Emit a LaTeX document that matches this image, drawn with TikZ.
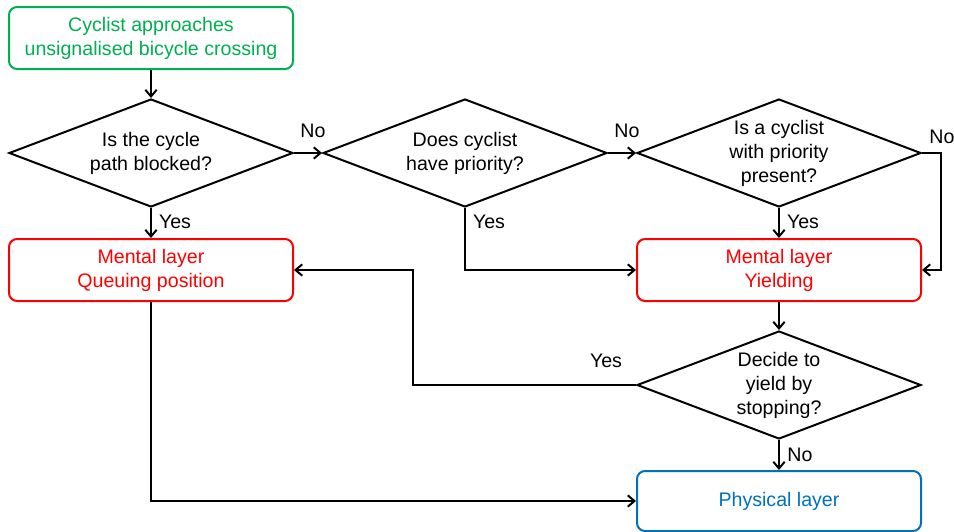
\documentclass[tikz,border=0pt]{standalone}
\usepackage{fontspec}
\setmainfont{Liberation Sans}
\usetikzlibrary{shapes.geometric,arrows.meta}
\definecolor{startgreen}{RGB}{0,176,80}
\definecolor{mentalred}{RGB}{255,0,0}
\definecolor{physblue}{RGB}{0,112,192}
\begin{document}
\begin{tikzpicture}[x=0.75pt,y=-0.75pt,
  font=\fontsize{14.7}{18}\selectfont,
  line width=1.5pt,
  arr/.style={-{Straight Barb[length=5pt,width=8.5pt]}, line width=1.5pt},
  stepbox/.style={draw, rounded corners=6pt, minimum width=213pt,
    minimum height=46.5pt, align=center, inner sep=0pt},
  decision/.style={draw, diamond, minimum width=213pt, minimum height=81pt,
    inner sep=0pt},
  qtext/.style={align=center, inner sep=0pt},
  lbl/.style={inner sep=0pt}]
\useasboundingbox (0,0) rectangle (954,532);

% process boxes
\node[stepbox, draw=startgreen, text=startgreen] (start) at (151,38)
  {Cyclist approaches\\unsignalised bicycle crossing};
\node[stepbox, draw=mentalred, text=mentalred] (queue) at (151,270)
  {Mental layer\\Queuing position};
\node[stepbox, draw=mentalred, text=mentalred] (yield) at (779,270)
  {Mental layer\\Yielding};
\node[stepbox, draw=physblue, text=physblue, minimum height=45pt] (phys) at (779,501)
  {Physical layer};

% decisions
\node[decision] (d1) at (151,153) {};
\node[qtext] (d1t) at (d1) {Is the cycle\\path blocked?};
\node[decision] (d2) at (465,153) {};
\node[qtext] (d2t) at (d2) {Does cyclist\\have priority?};
\node[decision] (d3) at (779,153) {};
\node[qtext] (d3t) at (d3) {Is a cyclist\\with priority\\present?};
\node[decision] (d4) at (779,385) {};
\node[qtext] (d4t) at (d4) {Decide to\\yield by\\stopping?};

% bend points
\coordinate (c3) at (941,153);
\coordinate (c4) at (413,385);

% connectors
\draw[arr] (start.south) -- (d1.north);
\draw[arr] (d1.east) -- (d2.west);
\draw[arr] (d2.east) -- (d3.west);
\draw[arr] (d3.east) -- (c3) |- (yield.east);
\draw[arr] (d1.south) -- (queue.north);
\draw[arr] (d2.south) |- (yield.west);
\draw[arr] (d3.south) -- (yield.north);
\draw[arr] (yield.south) -- (d4.north);
\draw[arr] (d4.west) -- (c4) |- (queue.east);
\draw[arr] (d4.south) -- (phys.north);
\draw[arr] (queue.south) |- (phys.west);

% branch labels
\node[lbl] (l1) at (313,131) {No};
\node[lbl] (l2) at (627,131) {No};
\node[lbl] (l3) at (942,137) {No};
\node[lbl] (l4) at (175,222) {Yes};
\node[lbl] (l5) at (489,222) {Yes};
\node[lbl] (l6) at (803,222) {Yes};
\node[lbl] (l7) at (606,361) {Yes};
\node[lbl] (l8) at (800,455) {No};
\end{tikzpicture}
\end{document}
